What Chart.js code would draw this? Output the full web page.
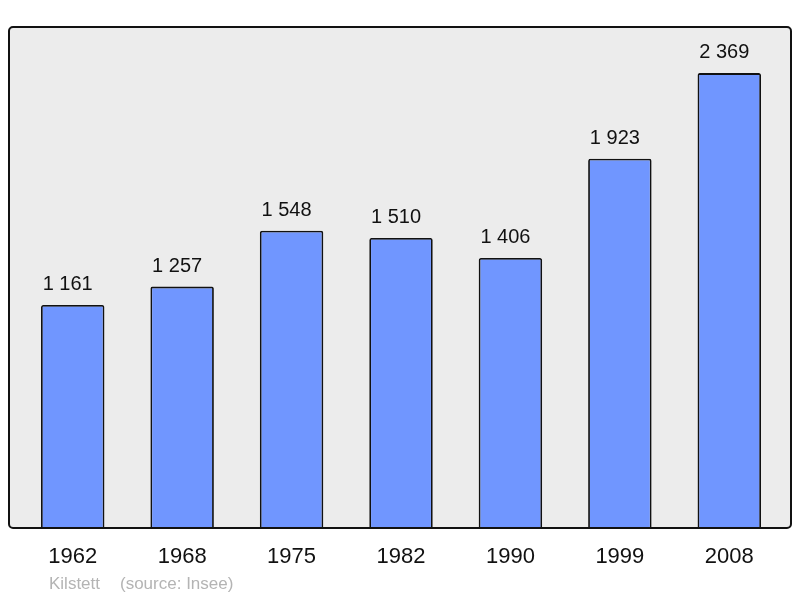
<!DOCTYPE html>
<html>
<head>
<meta charset="utf-8">
<script src="https://cdn.jsdelivr.net/npm/chart.js@4"></script>
<style>
  html, body { margin: 0; padding: 0; background: #fff; }
  #wrap { width: 800px; height: 598px; }
</style>
</head>
<body>
<div id="wrap"><canvas id="chart" width="800" height="598"></canvas></div>
<script>
// données population
const years = ["1962", "1968", "1975", "1982", "1990", "1999", "2008"];
const population = [1161, 1257, 1548, 1510, 1406, 1923, 2369];
const commune = "Kilstett";
const source = "(source: Insee)";

const fmt = n => String(n).replace(/\B(?=(\d{3})+(?!\d))/g, " ");

// cadre gris arrondi + étiquettes de valeurs
const frame = {
  id: "frame",
  beforeDraw(chart) {
    const ctx = chart.ctx;
    const a = chart.chartArea;
    ctx.save();
    ctx.beginPath();
    ctx.roundRect(9, a.top, 782, a.bottom - a.top, 4);
    ctx.fillStyle = "#ececec";
    ctx.fill();
    ctx.restore();
  },
  afterDatasetsDraw(chart) {
    const ctx = chart.ctx;
    const a = chart.chartArea;
    ctx.save();
    ctx.beginPath();
    ctx.roundRect(9, a.top, 782, a.bottom - a.top, 4);
    ctx.lineWidth = 2;
    ctx.strokeStyle = "#111";
    ctx.stroke();

    ctx.font = "20px 'Liberation Sans', Arial, sans-serif";
    ctx.fillStyle = "#111";
    ctx.textAlign = "center";
    ctx.textBaseline = "alphabetic";
    chart.getDatasetMeta(0).data.forEach((bar, i) => {
      ctx.fillText(fmt(population[i]), bar.x - 5, bar.y - 15);
    });

    ctx.font = "17px 'Liberation Sans', Arial, sans-serif";
    ctx.fillStyle = "#b4b4b4";
    ctx.textAlign = "left";
    ctx.fillText(commune, 49, 589);
    ctx.fillText(source, 120, 589);
    ctx.restore();
  }
};

new Chart(document.getElementById("chart"), {
  type: "bar",
  data: {
    labels: years,
    datasets: [{
      data: population,
      backgroundColor: "#7096ff",
      borderColor: "#111",
      borderWidth: 1.8,
      borderRadius: 2,
      borderSkipped: "bottom",
      barPercentage: 0.58,
      categoryPercentage: 1
    }]
  },
  options: {
    responsive: false,
    animation: false,
    layout: { padding: { left: 18, right: 16, top: 27, bottom: 20 } },
    plugins: { legend: { display: false }, tooltip: { enabled: false } },
    scales: {
      x: {
        grid: { display: false, drawTicks: false },
        border: { display: false },
        ticks: {
          color: "#111",
          padding: 16,
          font: { size: 22, family: "'Liberation Sans', Arial, sans-serif" }
        },
        afterFit: s => { s.height = 50; }
      },
      y: {
        display: false,
        min: 0,
        max: 2609
      }
    }
  },
  plugins: [frame]
});
</script>
</body>
</html>
